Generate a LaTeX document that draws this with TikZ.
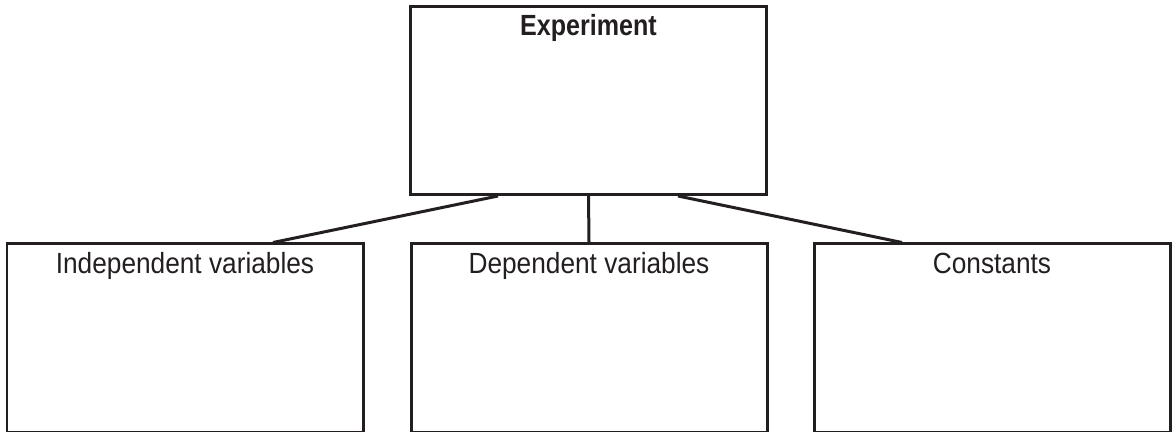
\documentclass[tikz,border=0pt]{standalone}
\usepackage{fontspec}
\setmainfont{Liberation Sans}[FakeStretch=0.9,BoldFeatures={FakeStretch=0.86}]
\usetikzlibrary{positioning}
\definecolor{inkgray}{RGB}{35,31,32}

\begin{document}
\begin{tikzpicture}
[-,line width=0.06cm,draw=inkgray,%
  every node/.style={shape=rectangle,inner sep=0pt,draw=inkgray,line width=0.06cm,
    text=inkgray,minimum width=7.12cm,text height=0.59cm,text depth=3.17cm},%
  font=\fontsize{16.6}{19}\selectfont]
\useasboundingbox (0,0) rectangle (23.48,-8.64);
\node (exp) at (11.77,-2.01) {\textbf{Experiment}};
\node (indep) at (3.70,-6.76) {Independent variables};
\node (dep) at (11.78,-6.76) {Dependent variables};
\node (const) at (19.84,-6.76) {Constants};
\draw ([xshift=-1.81cm]exp.south) -- ([xshift=1.76cm]indep.north);
\draw (exp.south) -- (dep.north);
\draw ([xshift=1.79cm]exp.south) -- ([xshift=-1.80cm]const.north);
\end{tikzpicture}
\end{document}
